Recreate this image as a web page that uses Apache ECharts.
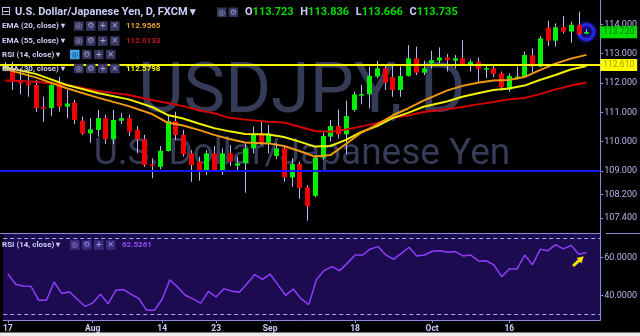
<!DOCTYPE html>
<html><head><meta charset="utf-8">
<script src="https://cdn.jsdelivr.net/npm/echarts@6/dist/echarts.min.js"></script>
<style>html,body{margin:0;padding:0;background:#000;}#c{width:640px;height:336px;}</style>
</head><body><div id="c"></div>
<script>
// ---------- DATA ----------
const dates = ['Jul 17','Jul 18','Jul 19','Jul 20','Jul 21','Jul 24','Jul 25','Jul 26','Jul 27','Jul 28','Jul 31',
'Aug 1','Aug 2','Aug 3','Aug 4','Aug 7','Aug 8','Aug 9','Aug 10','Aug 11','Aug 14','Aug 15','Aug 16','Aug 17','Aug 18',
'Aug 21','Aug 22','Aug 23','Aug 24','Aug 25','Aug 28','Aug 29','Aug 30','Aug 31',
'Sep 1','Sep 4','Sep 5','Sep 6','Sep 7','Sep 8','Sep 11','Sep 12','Sep 13','Sep 14','Sep 15','Sep 18','Sep 19','Sep 20','Sep 21','Sep 22',
'Sep 25','Sep 26','Sep 27','Sep 28','Sep 29',
'Oct 2','Oct 3','Oct 4','Oct 5','Oct 6','Oct 9','Oct 10','Oct 11','Oct 12','Oct 13','Oct 16','Oct 17','Oct 18','Oct 19','Oct 20',
'Oct 23','Oct 24','Oct 25','Oct 26','Oct 27','Oct 30'];
const opens = [112.45,112.51,112.10,111.99,111.93,111.18,111.14,111.90,111.19,111.33,110.71,
110.28,110.40,110.80,110.08,110.71,110.80,110.40,110.08,109.22,109.14,109.68,110.70,110.23,109.60,
109.32,108.97,109.60,109.03,109.60,109.18,109.26,109.77,110.28,
109.96,109.51,109.77,108.78,109.24,108.44,108.15,109.45,110.17,110.53,110.25,111.08,111.59,111.61,112.22,112.50,
112.20,111.76,112.24,112.84,112.35,
112.67,112.76,112.87,112.76,112.84,112.58,112.72,112.48,112.50,112.33,111.78,112.20,112.22,112.95,112.56,
113.89,113.44,113.90,113.75,113.98,113.723];
const highs = [112.71,112.72,112.50,112.44,112.10,111.53,112.04,112.21,111.76,111.42,110.85,
110.80,111.08,110.91,111.08,110.97,110.91,110.53,110.23,109.43,109.85,110.91,111.02,110.40,109.71,
109.49,109.71,109.85,109.77,109.88,109.49,109.94,110.51,110.74,
110.57,109.96,109.88,109.43,109.32,108.52,109.49,110.31,110.74,111.10,111.39,111.70,111.93,112.56,112.75,112.58,
112.58,112.56,113.29,113.24,112.76,
113.10,113.21,112.99,112.95,113.46,112.80,112.87,112.61,112.58,112.39,112.33,112.56,113.07,113.18,113.60,
114.12,114.03,114.28,114.09,114.43,113.836];
const lows = [112.40,111.76,111.61,111.53,111.02,110.68,110.87,111.02,110.80,110.60,110.23,
109.96,110.17,109.92,109.92,110.60,110.19,109.60,109.14,108.75,109.06,109.66,110.05,109.49,108.63,
108.67,108.86,108.97,108.86,109.17,109.03,108.26,109.60,109.88,
109.60,109.40,108.63,108.46,108.05,107.30,108.10,109.38,110.00,110.11,109.58,111.02,111.27,111.13,112.16,111.76,
111.53,111.53,112.22,112.27,112.27,
112.50,112.67,112.39,112.50,112.61,112.39,112.04,112.16,112.20,111.74,111.70,112.11,112.20,112.35,112.53,
113.26,113.24,113.69,113.37,113.63,113.666];
const closes = [112.60,112.10,111.99,111.92,111.14,111.15,111.93,111.19,111.30,110.74,110.28,
110.42,110.80,110.08,110.74,110.80,110.34,110.08,109.20,109.18,109.69,110.70,110.23,109.57,109.20,
108.97,109.60,109.03,109.60,109.32,109.26,109.77,110.26,109.96,
110.28,109.77,108.78,109.24,108.42,107.80,109.45,110.19,110.53,110.25,110.87,111.61,111.62,112.24,112.50,112.01,
111.76,112.24,112.84,112.35,112.50,
112.78,112.87,112.78,112.84,112.65,112.72,112.48,112.51,112.31,111.85,112.24,112.22,112.95,112.56,113.52,
113.44,113.90,113.75,113.98,113.66,113.735];

// moving averages read at sampled bars (bar index list + values)
const emaIdx = [0,4,8,12,16,19,21,23,25,27,29,31,34,36,38,40,42,44,46,48,50,52,54,57,59,61,63,65,67,69,71,73,75];
const ema20 = [112.48,112.19,111.82,111.50,111.21,110.94,110.65,110.55,110.40,110.23,110.09,109.97,109.94,109.85,109.68,109.49,109.54,109.92,110.31,110.58,110.89,111.13,111.40,111.74,111.90,112.01,112.08,112.10,112.20,112.44,112.66,112.83,112.9565];
const ema30 = [112.54,112.31,111.93,111.66,111.44,111.18,110.91,110.79,110.62,110.46,110.35,110.26,110.24,110.16,110.00,109.83,109.85,110.06,110.33,110.53,110.80,110.98,111.19,111.37,111.53,111.65,111.76,111.81,111.91,112.10,112.27,112.46,112.5798];
const ema55 = [112.08,112.04,111.93,111.73,111.59,111.42,111.32,111.21,111.08,110.97,110.81,110.75,110.68,110.65,110.51,110.36,110.34,110.41,110.52,110.63,110.81,110.89,111.01,111.10,111.18,111.27,111.35,111.44,111.49,111.62,111.78,111.91,112.0133];

const rsi = [51.4,45.8,44.9,44.7,37.4,37.4,47.0,40.9,41.9,37.9,34.2,
35.9,40.5,35.6,42.6,43.0,40.5,38.2,32.1,32.1,37.9,48.2,44.4,40.0,38.1,
35.9,42.1,39.1,43.5,42.3,41.6,46.1,50.9,48.4,
51.1,45.6,40.0,43.3,38.2,35.1,48.3,53.0,55.1,53.0,56.8,61.2,61.2,64.4,65.6,61.2,
58.9,62.1,65.3,60.7,61.2,
63.2,63.5,62.6,63.0,60.7,61.2,58.1,58.2,56.0,49.8,53.9,53.9,61.2,56.0,64.2,
63.5,66.7,64.4,66.3,61.6,62.5];

const priceTicks = [107.4,108.2,109,110,111,112,113,114];
const rsiTicks = [40,60];
const rsiBands = [70,30];
const levelYellow = 112.61;
const levelBlue = 109.0;
const xTickIdx = [0,11,20,27,34,45,55,65];
const xTickText = ['17','Aug','14','23','Sep','18','Oct','16'];
const lastValues = {ema20:'112.9565', ema55:'112.0133', ema30:'112.5798', rsi:'62.5261'};
const ohlcText = ['113.723','113.836','113.666','113.735'];

// ---------- CHART ----------
const N = dates.length;
const candleData = dates.map((d,i)=>[i, opens[i], closes[i], lows[i], highs[i]]);
const pairs = (vals)=>emaIdx.map((k,j)=>[k, vals[j]]);
const rsiData = rsi.map((v,i)=>[i,v]);
const AX = '#8a8ad6', LAV = '#ccccf8';
const xMin = -0.6, xMax = 76.79;

const G = [];
// watermark
G.push({type:'text', z:0, x:302, y:94, style:{text:'USDJPY, D', font:'70px Roboto', fill:'#363b58', textAlign:'center', textVerticalAlign:'middle'}});
G.push({type:'text', z:0, x:302, y:155, style:{text:'U.S. Dollar/Japanese Yen', font:'37px Roboto', fill:'#363b58', textAlign:'center', textVerticalAlign:'middle'}});
// legend helpers
function icon(x, y, glyph, bg, fg){
  G.push({type:'rect', z:100, shape:{x:x, y:y, width:9.5, height:9.5}, style:{fill:bg}});
  G.push({type:'text', z:101, x:x+4.75, y:y+5, style:{text:glyph, font:'bold 8px "DejaVu Sans"', fill:fg, textAlign:'center', textVerticalAlign:'middle'}});
}
function txt(x, y, s, color, font){
  G.push({type:'text', z:100, x:x, y:y, style:{text:s, font:font, fill:color, textAlign:'left', textVerticalAlign:'middle'}});
}
// row 1
txt(1, 12, '\u229F', LAV, '12px "DejaVu Sans"');
txt(15, 12, 'U.S. Dollar/Japanese Yen, D, FXCM \u25BE', LAV, 'bold 11px Roboto');
icon(217, 7.5, '\u25CE', '#36365e', '#a0a0d4');
icon(228.5, 7.5, '\u2699', '#36365e', '#a0a0d4');
G.push({type:'text', z:100, x:245, y:12, style:{text:'{l|O}{v|'+ohlcText[0]+'}  {l|H}{v|'+ohlcText[1]+'}  {l|L}{v|'+ohlcText[2]+'}  {l|C}{v|'+ohlcText[3]+'}', textVerticalAlign:'middle',
  rich:{l:{fill:LAV, font:'bold 11px Roboto'}, v:{fill:'#00dd00', font:'bold 11px Roboto'}}}});
// indicator rows
const rows = [
  {y:26, name:'EMA (20, close) \u25BE', val:lastValues.ema20, col:'#eaa232', ix:74},
  {y:41, name:'EMA (55, close) \u25BE', val:lastValues.ema55, col:'#c01818', ix:74},
  {y:54.5, name:'RSI (14, close) \u25BE', val:'', col:'#fff', ix:70, hi:true},
  {y:68.5, name:'EMA (30, close) \u25BE', val:lastValues.ema30, col:'#f4f400', ix:74}
];
rows.forEach(r=>{
  txt(2, r.y, r.name, LAV, 'bold 8px Roboto');
  const glyphs = ['\u25CE','\u2699','+','\u2715'];
  glyphs.forEach((g,j)=>{
    if (r.hi && j===0) icon(r.ix+j*12, r.y-4.75, g, '#3ca8f0', '#103060');
    else icon(r.ix+j*12, r.y-4.75, g, '#36365e', '#a0a0d4');
  });
  if (r.val) txt(126, r.y, r.val, r.col, 'bold 8px Roboto');
});
// RSI pane legend
txt(2, 245, 'RSI (14, close) \u25BE', LAV, 'bold 8px Roboto');
['\u25CE','\u2699','+','\u2715'].forEach((g,j)=>icon(70+j*12, 240.25, g, '#3a2c7c', '#9a8ae0'));
txt(122, 245, lastValues.rsi, '#9a4cff', 'bold 8px Roboto');
// yellow arrow annotation
G.push({type:'polyline', z:100, shape:{points:[[573,266],[579.5,260.2]]}, style:{stroke:'#f4e400', lineWidth:3}});
G.push({type:'polygon', z:100, shape:{points:[[583.8,256.2],[581.4,263.4],[576.6,258]]}, style:{fill:'#f4e400'}});
// top border + bottom strip
G.push({type:'line', z:50, shape:{x1:606, y1:233.5, x2:640, y2:233.5}, style:{stroke:AX, lineWidth:1}});
G.push({type:'rect', z:50, shape:{x:0, y:332.5, width:640, height:4}, style:{fill:'#ececec'}});

const option = {
  backgroundColor:'#000',
  animation:false,
  grid:[
    {left:0, top:0, width:606, height:233, show:false},
    {left:0, top:234, width:606, height:86, show:true, backgroundColor:'#1c0b4f', borderWidth:0}
  ],
  xAxis:[
    {type:'value', gridIndex:0, min:xMin, max:xMax, axisLine:{show:true, onZero:false, lineStyle:{color:AX}}, axisTick:{show:false}, axisLabel:{show:false}, splitLine:{show:false}},
    {type:'value', gridIndex:1, min:xMin, max:xMax, axisLine:{show:true, onZero:false, lineStyle:{color:AX}},
      axisTick:{show:true, customValues:xTickIdx, length:3, lineStyle:{color:AX}},
      axisLabel:{customValues:xTickIdx, formatter:v=>xTickText[xTickIdx.indexOf(Math.round(v))], color:LAV, fontSize:8.5, fontWeight:'bold', fontFamily:'Roboto', margin:4},
      splitLine:{show:false}}
  ],
  yAxis:[
    {type:'value', gridIndex:0, position:'right', min:106.885, max:114.828, axisLine:{show:true, onZero:false, lineStyle:{color:AX}},
      axisTick:{show:true, customValues:priceTicks, length:3, lineStyle:{color:AX}},
      axisLabel:{customValues:priceTicks, formatter:v=>v.toFixed(3), color:'#b8b8f2', fontSize:9, fontFamily:'Roboto', margin:4},
      splitLine:{show:false}},
    {type:'value', gridIndex:1, position:'right', min:27, max:72.26, axisLine:{show:true, onZero:false, lineStyle:{color:AX}},
      axisTick:{show:true, customValues:rsiTicks, length:3, lineStyle:{color:AX}},
      axisLabel:{customValues:rsiTicks, formatter:v=>v.toFixed(4), color:'#b8b8f2', fontSize:9, fontFamily:'Roboto', margin:4},
      splitLine:{show:false}}
  ],
  graphic:G,
  series:[
    {type:'scatter', xAxisIndex:0, yAxisIndex:0, z:2, silent:true, symbol:'circle', symbolSize:15,
      itemStyle:{color:'#000028', borderColor:'#2a2aff', borderWidth:3, shadowBlur:4, shadowColor:'#3030ff'},
      data:[[N-1, closes[N-1]]]},
    {type:'custom', xAxisIndex:0, yAxisIndex:0, z:3, silent:true, data:candleData,
      renderItem:function(params, api){
        const x = api.value(0), o = api.value(1), c = api.value(2), l = api.value(3), h = api.value(4);
        const po = api.coord([x,o]), pc = api.coord([x,c]), pl = api.coord([x,l]), ph = api.coord([x,h]);
        const w = api.size([1,0])[0]*0.64;
        const up = c >= o;
        const top = Math.min(po[1],pc[1]), bot = Math.max(po[1],pc[1]);
        const cx = Math.round(po[0]) + 0.5;
        return {type:'group', children:[
          {type:'line', shape:{x1:cx, y1:ph[1], x2:cx, y2:pl[1]}, style:{stroke:'#b8b8f4', lineWidth:1}},
          {type:'rect', shape:{x:cx - w/2, y:top, width:w, height:Math.max(bot-top,1.6)}, style:{fill: up ? '#00f000' : '#f00000'}}
        ]};
      }},
    {type:'line', name:'EMA55', xAxisIndex:0, yAxisIndex:0, z:4, data:pairs(ema55), showSymbol:false, smooth:false,
      lineStyle:{color:'#d40000', width:2}, silent:true,
      markLine:{silent:true, symbol:'none', data:[
        {yAxis:levelYellow, lineStyle:{color:'#f6f600', width:2, type:'solid'},
          label:{show:true, position:'end', distance:0, formatter:p=>p.value.toFixed(3), backgroundColor:'#ffff00', color:'#a8a000', fontSize:8.5, fontFamily:'Roboto', padding:[2,3,1,3]}},
        {yAxis:levelBlue, lineStyle:{color:'#1414ff', width:2, type:'solid'}, label:{show:false}},
        {yAxis:closes[N-1], lineStyle:{color:'rgba(0,0,0,0)', width:0}, 
          label:{show:true, position:'end', distance:0, formatter:p=>p.value.toFixed(3), backgroundColor:'#00e000', color:'#006e00', fontSize:8.5, fontFamily:'Roboto', padding:[2,3,1,3]}}
      ]}},
    {type:'line', name:'EMA30', xAxisIndex:0, yAxisIndex:0, z:4, data:pairs(ema30), showSymbol:false, lineStyle:{color:'#f2f200', width:2}, silent:true},
    {type:'line', name:'EMA20', xAxisIndex:0, yAxisIndex:0, z:4, data:pairs(ema20), showSymbol:false, lineStyle:{color:'#f09a10', width:2}, silent:true},
    {type:'line', name:'RSI', xAxisIndex:1, yAxisIndex:1, z:4, data:rsiData, showSymbol:false, lineStyle:{color:'#8f3cff', width:1.5}, silent:true,
      markLine:{silent:true, symbol:'none', label:{show:false},
        data:rsiBands.map(v=>({yAxis:v})), lineStyle:{color:'#a8a8ea', width:1, type:[4,3]}}}
  ]
};
const chart = echarts.init(document.getElementById('c'));
chart.setOption(option);
</script>
</body></html>
